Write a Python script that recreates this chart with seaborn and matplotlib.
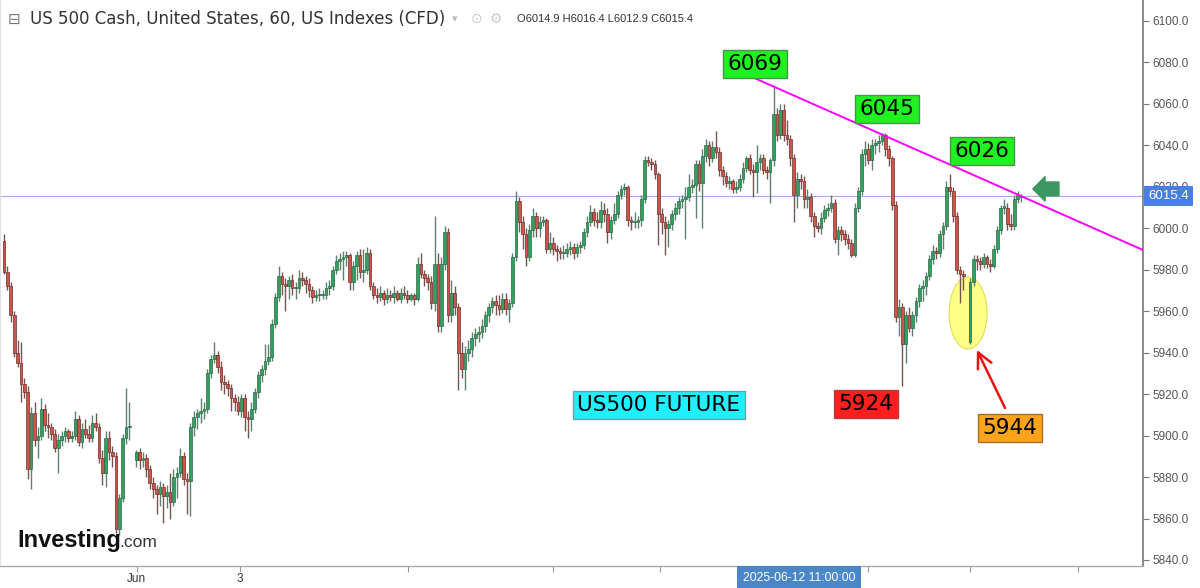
import numpy as np
import pandas as pd
import matplotlib
matplotlib.use("Agg")
import matplotlib.pyplot as plt
import seaborn as sns
from matplotlib.patches import Ellipse
from matplotlib import transforms
from matplotlib.ticker import FormatStrFormatter

nan = float("nan")

# ---------------- data ----------------
opens = [
    5994, 5979, 5972, 5958, 5940, 5935, 5925, 5921, 5884, 5911,
    5898, 5900, 5913, 5905, 5904, 5901, 5894, 5898, 5900, 5902,
    5899, 5900, 5908, 5897, 5903, 5901, 5899, 5906, 5904, 5889,
    5882, 5899, 5892, 5890, 5855, 5870, 5899, 5904, nan, 5888,
    5892, 5888, 5889, 5884, 5877, 5874, 5872, 5875, 5871, 5873,
    5868, 5880, 5882, 5890, 5879, 5878, 5904, 5909, 5911, 5912,
    5913, 5930, 5937, 5939, 5933, 5926, 5925, 5923, 5918, 5916,
    5912, 5918, 5909, 5908, 5913, 5921, 5929, 5932, 5936, 5938,
    5954, 5967, 5977, 5973, 5972, 5975, 5971, 5971, 5976, 5975,
    5973, 5970, 5967, 5968, 5968, 5968, 5971, 5972, 5980, 5984,
    5985, 5986, 5987, 5974, 5982, 5987, 5979, 5980, 5988, 5972,
    5968, 5967, 5969, 5966, 5968, 5967, 5969, 5966, 5969, 5968,
    5966, 5968, 5966, 5983, 5978, 5976, 5974, 5964, 5983, 5953,
    5983, 5998, 5958, 5969, 5962, 5940, 5932, 5940, 5942, 5947,
    5949, 5950, 5953, 5958, 5962, 5965, 5963, 5961, 5966, 5961,
    5964, 5986, 6013, 6003, 5997, 5986, 5999, 6006, 6000, 6003,
    6004, 5990, 5993, 5990, 5989, 5988, 5988, 5990, 5991, 5988,
    5991, 5992, 5998, 6003, 6008, 6004, 6003, 6009, 6007, 5998,
    6004, 6007, 6016, 6019, 6020, 6004, 6003, 6003, 6004, 6014,
    6033, 6032, 6031, 6026, 6007, 6003, 6000, 6002, 6007, 6010,
    6013, 6014, 6015, 6020, 6021, 6031, 6022, 6035, 6040, 6034,
    6039, 6037, 6028, 6025, 6022, 6023, 6019, 6020, 6024, 6029,
    6034, 6028, 6027, 6032, 6034, 6028, 6027, 6033, 6055, 6045,
    6057, 6045, 6043, 6034, 6016, 6024, 6023, 6014, 6015, 6006,
    6001, 6000, 6005, 6009, 6010, 6012, 5995, 5999, 5997, 5995,
    5993, 5987, 6010, 6018, 6036, 6038, 6033, 6040, 6041, 6042,
    6045, 6038, 6034, 6011, 5957, 5962, 5944, 5958, 5952, 5958,
    5965, 5971, 5972, 5977, 5985, 5989, 5988, 5997, 6001, 6020,
    6018, 6006, 5980, 5978, nan, 5945, 5974, 5985, 5984, 5983,
    5986, 5983, 5982, 5990, 5999, 6010, 6010, 6002, 6001, 6014,
    6014.9,
]
highs = [
    5997, 5982, 5974, 5960, 5946, 5945, 5928, 5924, 5914, 5916,
    5904, 5918, 5915, 5911, 5906, 5903, 5901, 5902, 5904, 5903,
    5902, 5912, 5910, 5906, 5908, 5905, 5910, 5911, 5906, 5893,
    5902, 5902, 5895, 5892, 5872, 5901, 5923, 5916, nan, 5893,
    5894, 5892, 5891, 5886, 5880, 5876, 5878, 5877, 5876, 5882,
    5884, 5885, 5894, 5892, 5882, 5906, 5912, 5913, 5918, 5916,
    5932, 5939, 5945, 5941, 5936, 5929, 5927, 5925, 5920, 5919,
    5920, 5920, 5912, 5916, 5923, 5931, 5934, 5944, 5944, 5956,
    5969, 5982, 5979, 5976, 5977, 5978, 5974, 5980, 5979, 5977,
    5976, 5972, 5970, 5971, 5970, 5974, 5975, 5982, 5987, 5988,
    5989, 5989, 5988, 5984, 5989, 5990, 5990, 5991, 5990, 5974,
    5971, 5972, 5970, 5971, 5970, 5972, 5970, 5971, 5972, 5970,
    5969, 5969, 5986, 5988, 5980, 5978, 5977, 6006, 5988, 5986,
    6001, 6000, 5975, 5972, 5964, 5945, 5943, 5946, 5950, 5952,
    5953, 5956, 5960, 5964, 5967, 5968, 5968, 5969, 5969, 5966,
    5988, 6018, 6015, 6006, 6000, 6002, 6010, 6008, 6006, 6006,
    6005, 5998, 5996, 5992, 5991, 5992, 5993, 5994, 5993, 5993,
    5994, 6000, 6006, 6011, 6010, 6008, 6013, 6012, 6010, 6006,
    6012, 6018, 6021, 6022, 6021, 6006, 6008, 6006, 6016, 6035,
    6035, 6034, 6033, 6027, 6010, 6006, 6004, 6009, 6012, 6015,
    6016, 6020, 6026, 6024, 6033, 6033, 6038, 6043, 6042, 6042,
    6047, 6039, 6030, 6027, 6025, 6024, 6023, 6026, 6032, 6035,
    6036, 6031, 6040, 6036, 6036, 6030, 6034, 6069, 6058, 6060,
    6060, 6052, 6045, 6036, 6027, 6026, 6025, 6019, 6017, 6008,
    6003, 6008, 6011, 6012, 6016, 6014, 6001, 6001, 5999, 5997,
    5995, 6012, 6020, 6038, 6042, 6041, 6043, 6043, 6045, 6046,
    6046, 6040, 6035, 6013, 5966, 5964, 5960, 5962, 5960, 5967,
    5973, 5975, 5979, 5987, 5992, 5991, 5999, 6003, 6023, 6026,
    6020, 6008, 5982, 5980, nan, 5976, 5987, 5987, 5986, 5988,
    5987, 5985, 5992, 6001, 6011, 6014, 6012, 6007, 6016, 6018,
    6016.4,
]
lows = [
    5978, 5970, 5955, 5938, 5933, 5916, 5918, 5879, 5874, 5895,
    5889, 5898, 5902, 5899, 5898, 5892, 5882, 5895, 5897, 5897,
    5897, 5898, 5895, 5894, 5899, 5897, 5897, 5902, 5887, 5876,
    5875, 5888, 5885, 5853, 5852, 5868, 5896, 5898, nan, 5885,
    5884, 5885, 5880, 5874, 5870, 5862, 5866, 5858, 5865, 5860,
    5866, 5870, 5880, 5876, 5862, 5861, 5900, 5903, 5906, 5908,
    5911, 5928, 5935, 5930, 5922, 5920, 5919, 5912, 5912, 5910,
    5909, 5902, 5899, 5902, 5911, 5918, 5926, 5929, 5934, 5936,
    5952, 5965, 5968, 5960, 5966, 5968, 5966, 5969, 5972, 5969,
    5967, 5964, 5965, 5965, 5966, 5966, 5968, 5970, 5978, 5980,
    5975, 5982, 5970, 5970, 5975, 5976, 5974, 5978, 5970, 5966,
    5964, 5965, 5963, 5964, 5965, 5964, 5965, 5964, 5966, 5964,
    5965, 5963, 5965, 5976, 5972, 5970, 5961, 5960, 5950, 5950,
    5980, 5955, 5955, 5958, 5922, 5928, 5922, 5936, 5938, 5943,
    5945, 5947, 5950, 5955, 5959, 5958, 5958, 5959, 5958, 5955,
    5962, 5984, 5998, 5990, 5982, 5984, 5996, 5996, 5996, 6001,
    5988, 5988, 5987, 5984, 5985, 5985, 5986, 5987, 5985, 5986,
    5988, 5990, 5996, 6001, 6001, 6000, 6000, 6003, 5993, 5995,
    6002, 6005, 6014, 6016, 6001, 5999, 6000, 6000, 6001, 6012,
    6030, 6028, 6024, 5992, 5997, 5987, 5991, 5999, 6004, 6007,
    6010, 5995, 6013, 6017, 6005, 6018, 6000, 6032, 6030, 6032,
    6034, 6025, 6021, 6020, 6019, 6017, 6017, 6018, 6022, 6027,
    6026, 6015, 6017, 6028, 6026, 6024, 6012, 6030, 6042, 6043,
    6042, 6040, 6030, 6003, 6010, 6019, 6010, 6010, 6003, 5996,
    5998, 5997, 6003, 6006, 6008, 5993, 5987, 5994, 5992, 5990,
    5986, 5986, 6008, 6016, 6030, 6031, 6028, 6036, 6037, 6040,
    6035, 6030, 6009, 5955, 5948, 5924, 5935, 5950, 5948, 5955,
    5962, 5965, 5968, 5975, 5983, 5985, 5986, 5990, 5999, 6016,
    6003, 5978, 5964, 5970, nan, 5944, 5972, 5980, 5980, 5981,
    5981, 5979, 5981, 5988, 5997, 6007, 5999, 5999, 5999, 6012,
    6012.9,
]
closes = [
    5979, 5972, 5958, 5940, 5935, 5925, 5921, 5884, 5911, 5898,
    5900, 5913, 5905, 5904, 5901, 5894, 5898, 5900, 5902, 5899,
    5900, 5908, 5897, 5903, 5901, 5899, 5906, 5904, 5889, 5882,
    5899, 5892, 5890, 5855, 5870, 5899, 5904, 5904, nan, 5892,
    5888, 5889, 5884, 5877, 5874, 5872, 5875, 5871, 5873, 5868,
    5880, 5882, 5890, 5879, 5878, 5904, 5909, 5911, 5912, 5913,
    5930, 5937, 5939, 5933, 5926, 5925, 5923, 5918, 5916, 5912,
    5918, 5909, 5908, 5913, 5921, 5929, 5932, 5936, 5938, 5954,
    5967, 5977, 5973, 5972, 5975, 5971, 5971, 5976, 5975, 5973,
    5970, 5967, 5968, 5968, 5968, 5971, 5972, 5980, 5984, 5985,
    5986, 5987, 5974, 5982, 5987, 5979, 5980, 5988, 5972, 5968,
    5967, 5969, 5966, 5968, 5967, 5969, 5966, 5969, 5968, 5966,
    5968, 5966, 5983, 5978, 5976, 5974, 5964, 5983, 5953, 5983,
    5998, 5958, 5969, 5962, 5940, 5932, 5940, 5942, 5947, 5949,
    5950, 5953, 5958, 5962, 5965, 5963, 5961, 5966, 5961, 5964,
    5986, 6013, 6003, 5997, 5986, 5999, 6006, 6000, 6003, 6004,
    5990, 5993, 5990, 5989, 5988, 5988, 5990, 5991, 5988, 5991,
    5992, 5998, 6003, 6008, 6004, 6003, 6009, 6007, 5998, 6004,
    6007, 6016, 6019, 6020, 6004, 6003, 6003, 6004, 6014, 6033,
    6032, 6031, 6026, 6007, 6003, 6000, 6002, 6007, 6010, 6013,
    6014, 6015, 6020, 6021, 6031, 6022, 6035, 6040, 6034, 6039,
    6037, 6028, 6025, 6022, 6023, 6019, 6020, 6024, 6029, 6034,
    6028, 6027, 6032, 6034, 6028, 6027, 6033, 6055, 6045, 6057,
    6045, 6043, 6034, 6016, 6024, 6023, 6014, 6015, 6006, 6001,
    6000, 6005, 6009, 6010, 6012, 5995, 5999, 5997, 5995, 5993,
    5987, 6010, 6018, 6036, 6038, 6033, 6040, 6041, 6042, 6045,
    6038, 6034, 6011, 5957, 5962, 5944, 5958, 5952, 5958, 5965,
    5971, 5972, 5977, 5985, 5989, 5988, 5997, 6001, 6020, 6018,
    6006, 5980, 5978, 5977, nan, 5974, 5985, 5984, 5983, 5986,
    5983, 5982, 5990, 5999, 6010, 6010, 6002, 6001, 6014, 6016,
    6015.4,
]

last_price = 6015.4
y_ticks = [5840, 5860, 5880, 5900, 5920, 5940, 5960, 5980, 6000, 6020, 6040, 6060, 6080, 6100]
x_tick_pos = [39.2, 69.6, 119.2, 161.9, 193.5, 254.9, 285.0, 316.8]
x_tick_labels = ["Jun", "3", "", "", "", "", "", ""]
cursor_bar = 234.5
cursor_label = "2025-06-12 11:00:00"

# trend line drawn across the three lower highs (bar index, price)
trend_x = [220.6, 336.0]
trend_y = [6073.0, 5989.5]

# labelled levels
level_texts = ["6069", "6045", "6026", "5924", "5944", "US500 FUTURE"]
level_x = [221.5, 260.5, 288.5, 254.3, 296.8, 193.2]
level_y = [6079.3, 6057.5, 6037.3, 5915.2, 5903.7, 5914.8]
level_fc = ["#1ff21f", "#1ff21f", "#1ff21f", "#ff1f1f", "#ffa31a", "#1ff0ff"]
level_ec = ["#4f8f4f", "#4f8f4f", "#4f8f4f", "#b04040", "#a07030", "#70a0a0"]

df = pd.DataFrame({"open": opens, "high": highs, "low": lows, "close": closes})
df["bar"] = np.arange(len(df))
df = df.dropna().reset_index(drop=True)
up = df["close"] >= df["open"]

# ---------------- drawing ----------------
sns.set_theme(style="white")
plt.rcParams["font.family"] = ["DejaVu Sans"]

fig = plt.figure(figsize=(12, 5.88), dpi=100)
ax = fig.add_axes([0, 1 - 566 / 588, 1143 / 1200, 566 / 588])

ax.axhline(last_price, color="#a8a8ee", lw=0.8, zorder=1)

# yellow highlight ellipse around the 5944 bar
ax.add_patch(Ellipse((284.4, 5959.1), width=11.2, height=34.7,
                     fc="#ffff88", ec="#dede55", lw=0.8, zorder=2))

wick_col = np.where(up, "#5f7f6f", "#735552")
ax.vlines(df["bar"], df["low"], df["high"], colors=wick_col, lw=1.0, zorder=3)

bottoms = np.minimum(df["open"], df["close"])
heights = np.maximum((df["close"] - df["open"]).abs(), 0.5)
fills = np.where(up, "#32a060", "#cc554c")
edges = np.where(up, "#22623c", "#6a221c")
ax.bar(df["bar"], heights, bottom=bottoms, width=0.8, color=fills,
       edgecolor=edges, linewidth=0.45, zorder=4)

sns.lineplot(x=trend_x, y=trend_y, color="#ff00ff", linewidth=1.4,
             ax=ax, legend=False, zorder=5)

for t, xx, yy, fc, ec in zip(level_texts, level_x, level_y, level_fc, level_ec):
    ax.text(xx, yy, t, ha="center", va="center", fontsize=15.5, color="black",
            bbox=dict(boxstyle="square,pad=0.2", fc=fc, ec=ec, lw=1.0), zorder=7)

# red arrow pointing at the 5944 bar
ax.annotate("", xy=(287.0, 5941.3), xytext=(295.3, 5913.3),
            arrowprops=dict(arrowstyle="->,head_length=0.9,head_width=0.45",
                            color="#ee1111", lw=1.8, shrinkA=0, shrinkB=0), zorder=6)
# green arrow at the right
ax.annotate("", xy=(303.5, 6019.0), xytext=(311.2, 6019.0),
            arrowprops=dict(arrowstyle="simple,head_length=0.8,head_width=1.6,tail_width=0.9",
                            fc="#3b9660", ec="#3b9660", shrinkA=0, shrinkB=0,
                            mutation_scale=11), zorder=6)

ax.set_xlim(-1.18, 336.0)
ax.set_ylim(5837.1, 6110.1)

ax.yaxis.tick_right()
ax.set_yticks(y_ticks)
ax.yaxis.set_major_formatter(FormatStrFormatter("%.1f"))
ax.tick_params(axis="y", which="both", right=True, left=False, length=4, width=0.8,
               color="#777777", labelsize=8.5, labelcolor="#555555", pad=3)
for lbl in ax.get_yticklabels():
    lbl.set_family("Liberation Sans")

ax.set_xticks(x_tick_pos)
ax.set_xticklabels(x_tick_labels)
ax.tick_params(axis="x", bottom=True, length=4, width=0.8, color="#999999",
               labelsize=8.5, labelcolor="#333333", pad=1)
for lbl in ax.get_xticklabels():
    lbl.set_family("Liberation Sans")

ax.spines["top"].set_visible(False)
ax.spines["right"].set_color("#777777")
ax.spines["right"].set_linewidth(1.2)
ax.spines["bottom"].set_color("#aaaaaa")
ax.spines["bottom"].set_linewidth(1.0)
ax.spines["left"].set_color("#dddddd")
ax.set_xlabel("")
ax.set_ylabel("")

# last price tag on the right axis
tr_y = transforms.blended_transform_factory(ax.transAxes, ax.transData)
ax.text(1.0045, last_price, f"{last_price:.1f}", transform=tr_y, ha="left", va="center",
        fontsize=9.5, color="white", family="Liberation Sans", clip_on=False, zorder=10,
        bbox=dict(boxstyle="square,pad=0.3", fc="#4a7fe2", ec="none"))

# cursor date tag on the time axis
tr_x = transforms.blended_transform_factory(ax.transData, ax.transAxes)
ax.text(cursor_bar, -0.0212, cursor_label, transform=tr_x, ha="center", va="center",
        fontsize=8.8, color="white", family="Liberation Sans", clip_on=False, zorder=10,
        bbox=dict(boxstyle="square,pad=0.45", fc="#4a86c8", ec="none"))

# header
fig.text(8 / 1200, 1 - 19 / 588, "⊟", fontsize=11, color="#777777", va="center")
fig.text(30 / 1200, 1 - 19 / 588, "US 500 Cash, United States, 60, US Indexes (CFD)",
         fontsize=12, color="#333333", va="center")
fig.text(452 / 1200, 1 - 19 / 588, "▾", fontsize=8, color="#bbbbbb", va="center")
fig.text(471 / 1200, 1 - 19 / 588, "⊙", fontsize=10, color="#cccccc", va="center")
fig.text(490 / 1200, 1 - 19 / 588, "⚙", fontsize=10, color="#cccccc", va="center")
fig.text(517 / 1200, 1 - 19 / 588, "O6014.9 H6016.4 L6012.9 C6015.4",
         fontsize=8, family="Liberation Sans", color="#333333", va="center")

# watermark logo
fig.text(17 / 1200, 1 - 547 / 588, "Investing", fontsize=17, fontweight="bold",
         family="Liberation Sans", color="#111111", va="baseline")
fig.text(119 / 1200, 1 - 547 / 588, ".com", fontsize=12.5,
         family="Liberation Sans", color="#333333", va="baseline")

fig.savefig("out.png", dpi=100)
